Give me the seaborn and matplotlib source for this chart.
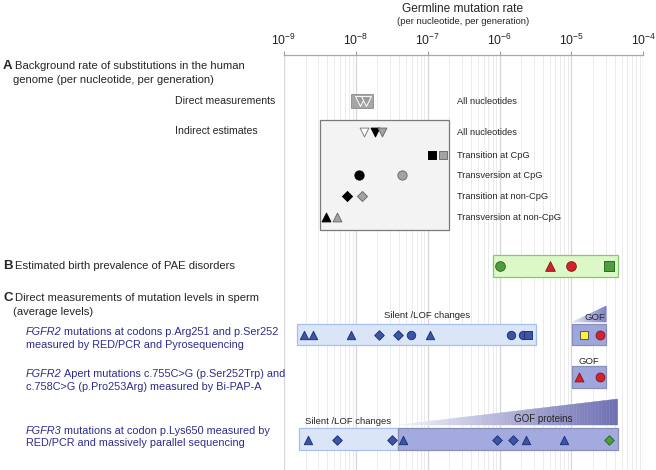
import matplotlib
matplotlib.use("Agg")
import matplotlib.pyplot as plt
import matplotlib.ticker as mticker
from matplotlib.patches import Rectangle, Polygon
from matplotlib.colors import to_rgb
import numpy as np
import pandas as pd
import seaborn as sns

# ---------------- data (rates per nucleotide per generation) ----------------
direct_rates = [1.15e-8, 1.4e-8]
direct_range = (8.5e-9, 1.75e-8)

indirect_all = [1.3e-8, 1.83e-8, 2.32e-8]
cpg_transition = [1.14e-7, 1.64e-7]
cpg_transversion = [1.11e-8, 4.36e-8]
noncpg_transition = [7.5e-9, 1.21e-8]
noncpg_transversion = [3.9e-9, 5.5e-9]
indirect_range = (3.2e-9, 2.0e-7)

pae_rates = [1.0e-6, 5.0e-6, 1.0e-5, 3.36e-5]
pae_markers = ["o", "^", "o", "s"]
pae_colors = ["green", "red", "red", "green"]
pae_range = (8.0e-7, 4.4e-5)

fgfr2_lof_rates = [1.9e-9, 2.5e-9, 8.6e-9, 2.1e-8, 3.8e-8, 5.8e-8, 1.06e-7, 1.45e-6, 2.5e-6, 2.15e-6]
fgfr2_lof_markers = ["^", "^", "^", "D", "D", "o", "^", "o", "s", "o"]
fgfr2_lof_range = (1.53e-9, 3.2e-6)
fgfr2_gof_rates = [1.48e-5, 2.46e-5]
fgfr2_gof_markers = ["s", "o"]
fgfr2_gof_colors = ["yellow", "red"]
fgfr2_gof_range = (1.03e-5, 3.05e-5)

apert_rates = [1.26e-5, 2.46e-5]
apert_markers = ["^", "o"]

fgfr3_rates = [2.14e-9, 5.4e-9, 3.16e-8, 4.6e-8, 9.2e-7, 1.56e-6, 2.32e-6, 7.8e-6, 3.36e-5]
fgfr3_markers = ["^", "D", "D", "^", "D", "D", "^", "^", "D"]
fgfr3_colors = ["blue"] * 8 + ["green"]
fgfr3_lof_range = (1.63e-9, 3.84e-8)
fgfr3_gof_range = (3.84e-8, 4.4e-5)

decades = [1e-9, 1e-8, 1e-7, 1e-6, 1e-5, 1e-4]

# ---------------- styles ----------------
W, H = 656, 470
TOP = 55  # pixel row of the rate axis line
palette = {
    "white": ("#ffffff", "#7f7f7f"),
    "black": ("#000000", "#000000"),
    "grey": ("#a3a3a3", "#6f6f6f"),
    "dgrey": ("#9a9a9a", "#ffffff"),
    "green": ("#4f9d3f", "#2f6a27"),
    "red": ("#d2232a", "#8d1a1d"),
    "blue": ("#3b55a5", "#1f347c"),
    "yellow": ("#fff23a", "#5a5a5a"),
}
# smaller marker areas for diamonds so they match the other shapes
shape_scale = {"D": 0.65, "s": 1.0, "^": 1.0, "v": 1.0, "o": 1.0}
text_blue = "#2c2c8e"
font = "Liberation Sans"

sns.set_style("white")
plt.rcParams["font.family"] = [font, "DejaVu Sans"]
plt.rcParams["mathtext.fontset"] = "custom"
plt.rcParams["mathtext.rm"] = font
plt.rcParams["mathtext.it"] = font + ":italic"
plt.rcParams["mathtext.bf"] = font + ":bold"

fig = plt.figure(figsize=(W / 100, H / 100), dpi=100)
x0 = 284 / W
x1 = 643.3 / W
ax = fig.add_axes([x0, 0, x1 - x0, 1 - TOP / H])
ax.set_xscale("log")
ax.set_xlim(decades[0], decades[-1])
ax.set_ylim(H, TOP)


def px(x, y):
    return x / W, 1 - y / H


def points(rates, y, markers, colors, size):
    df = pd.DataFrame({"rate": rates, "y": [y] * len(rates),
                       "marker": markers, "color": colors})
    for (m, c), sub in df.groupby(["marker", "color"], sort=False):
        face, edge = palette[c]
        sns.scatterplot(data=sub, x="rate", y="y", marker=m, s=size * shape_scale[m],
                        color=face, edgecolor=edge, linewidth=0.7,
                        ax=ax, legend=False, zorder=5, clip_on=False)


def box(rng, ytop, ybot, face, edge, lw=0.9):
    ax.add_patch(Rectangle((rng[0], ytop), rng[1] - rng[0], ybot - ytop,
                           facecolor=face, edgecolor=edge, lw=lw, zorder=2))


def wedge(rng, ybot, ytop, c_left, c_right, n=80):
    lo, hi = np.log10(rng[0]), np.log10(rng[1])
    edges = np.linspace(lo, hi, n + 1)
    cl, cr = np.array(to_rgb(c_left)), np.array(to_rgb(c_right))
    for i in range(n):
        a, b = edges[i], edges[i + 1]
        ya = ybot - (ybot - ytop) * (a - lo) / (hi - lo)
        yb = ybot - (ybot - ytop) * (b - lo) / (hi - lo)
        col = cl + (cr - cl) * (i + 0.5) / n
        ax.add_patch(Polygon([(10 ** a, ybot), (10 ** b, ybot), (10 ** b, yb), (10 ** a, ya)],
                             closed=True, facecolor=col, edgecolor=col, lw=0.3, zorder=2))


def sentence(x, y, italic, rest, size=7.8):
    t = fig.text(*px(x, y), italic, fontsize=size, va="center", color=text_blue, style="italic")
    fig.canvas.draw()
    bb = t.get_window_extent()
    fig.text((bb.x1 + 2.5) / W, 1 - y / H, rest, fontsize=size, va="center", color=text_blue)


# ---------------- axis styling ----------------
ax.xaxis.tick_top()
ax.xaxis.set_major_locator(mticker.LogLocator(base=10))
ax.xaxis.set_minor_locator(mticker.LogLocator(base=10, subs=np.arange(2, 10)))
ax.xaxis.set_minor_formatter(mticker.NullFormatter())
ax.tick_params(axis="x", which="major", length=3, color="#a0a0a0", labelsize=8.8,
               pad=2, labelcolor="#222222")
ax.tick_params(axis="x", which="minor", length=0)
ax.set_yticks([])
ax.grid(which="major", axis="x", color="#d6d6d6", lw=0.9)
ax.grid(which="minor", axis="x", color="#ebebeb", lw=0.7)
ax.set_axisbelow(True)
for s in ["left", "right", "bottom"]:
    ax.spines[s].set_visible(False)
ax.spines["top"].set_color("#a8a8a8")
ax.spines["top"].set_linewidth(0.9)

fig.text(*px(463, 9), "Germline mutation rate", ha="center", va="center", fontsize=8.6)
fig.text(*px(463, 21), "(per nucleotide, per generation)", ha="center", va="center", fontsize=6.8)

# ---------------- A ----------------
fig.text(*px(3, 66), "A", fontsize=9.5, fontweight="bold", va="center")
fig.text(*px(15, 66), "Background rate of substitutions in the human", fontsize=8.1, va="center")
fig.text(*px(13, 80), "genome (per nucleotide, per generation)", fontsize=8.1, va="center")
fig.text(*px(275, 101), "Direct measurements", fontsize=7.6, va="center", ha="right")
fig.text(*px(175, 131), "Indirect estimates", fontsize=7.6, va="center")

box(direct_range, 94, 108, "#a6a6a6", "#8c8c8c", lw=0.6)
points(direct_rates, 101, ["v", "v"], ["dgrey", "dgrey"], 50)

box(indirect_range, 120.5, 230.5, "#f3f3f3", "#7a7a7a")
rows_a = [132.5, 155, 175.5, 196.5, 217]
points(indirect_all, rows_a[0], ["v", "v", "v"], ["white", "black", "grey"], 40)
points(cpg_transition, rows_a[1], ["s", "s"], ["black", "grey"], 32)
points(cpg_transversion, rows_a[2], ["o", "o"], ["black", "grey"], 44)
points(noncpg_transition, rows_a[3], ["D", "D"], ["black", "grey"], 40)
points(noncpg_transversion, rows_a[4], ["^", "^"], ["black", "grey"], 40)

labels_a = ["All nucleotides", "All nucleotides", "Transition at CpG", "Transversion at CpG",
            "Transition at non-CpG", "Transversion at non-CpG"]
for lab, y in zip(labels_a, [102] + rows_a):
    fig.text(*px(457, y), lab, fontsize=6.7, va="center")

# ---------------- B ----------------
fig.text(*px(3, 266), "B", fontsize=9.5, fontweight="bold", va="center")
fig.text(*px(15, 266), "Estimated birth prevalence of PAE disorders", fontsize=8.1, va="center")
box(pae_range, 255, 277.5, "#dcf8c6", "#86c86e")
for r, m, c in zip(pae_rates, pae_markers, pae_colors):
    points([r], 266, [m], [c], 48)

# ---------------- C ----------------
fig.text(*px(3, 298), "C", fontsize=9.5, fontweight="bold", va="center")
fig.text(*px(15, 298), "Direct measurements of mutation levels in sperm", fontsize=8.1, va="center")
fig.text(*px(13, 312), "(average levels)", fontsize=8.1, va="center")

sentence(26, 332, "FGFR2", "mutations at codons p.Arg251 and p.Ser252")
fig.text(*px(26, 345), "measured by RED/PCR and Pyrosequencing",
         fontsize=7.8, va="center", color=text_blue)
sentence(26, 374, "FGFR2", "Apert mutations c.755C>G (p.Ser252Trp) and")
fig.text(*px(26, 387), "c.758C>G (p.Pro253Arg) measured by Bi-PAP-A",
         fontsize=7.8, va="center", color=text_blue)
sentence(26, 431, "FGFR3", "mutations at codon p.Lys650 measured by")
fig.text(*px(26, 443), "RED/PCR and massively parallel sequencing",
         fontsize=7.8, va="center", color=text_blue)

light_face, light_edge = "#dae5f8", "#a6bfeb"
dark_face, dark_edge = "#9ea6de", "#8a8fb6"

# row 1
box(fgfr2_lof_range, 324, 345.5, light_face, light_edge)
fig.text(*px(427, 316), "Silent /LOF changes", fontsize=6.8, ha="center", va="center")
points(fgfr2_lof_rates, 335, fgfr2_lof_markers, ["blue"] * len(fgfr2_lof_rates), 36)
box(fgfr2_gof_range, 324, 345.5, dark_face, dark_edge)
wedge(fgfr2_gof_range, 322, 306, "#e6e8f7", "#7f82c6")
fig.text(*px(595, 317), "GOF", fontsize=6.8, ha="center", va="center")
points(fgfr2_gof_rates, 335, fgfr2_gof_markers, fgfr2_gof_colors, 40)

# row 2
box(fgfr2_gof_range, 366, 388, dark_face, dark_edge)
fig.text(*px(589, 361), "GOF", fontsize=6.8, ha="center", va="center")
points(apert_rates, 377, apert_markers, ["red", "red"], 40)

# row 3
box(fgfr3_lof_range, 428.5, 450.5, light_face, light_edge)
box(fgfr3_gof_range, 428.5, 450.5, "#a3aae0", dark_edge)
wedge(fgfr3_gof_range, 425, 399, "#f2f3fc", "#6e6fb3")
fig.text(*px(348, 421), "Silent /LOF changes", fontsize=6.8, ha="center", va="center")
fig.text(*px(543, 419), "GOF proteins", fontsize=7, ha="center", va="center")
points(fgfr3_rates, 440, fgfr3_markers, fgfr3_colors, 36)

ax.set_xlabel("")
ax.set_ylabel("")

fig.savefig("out.png", dpi=100)
